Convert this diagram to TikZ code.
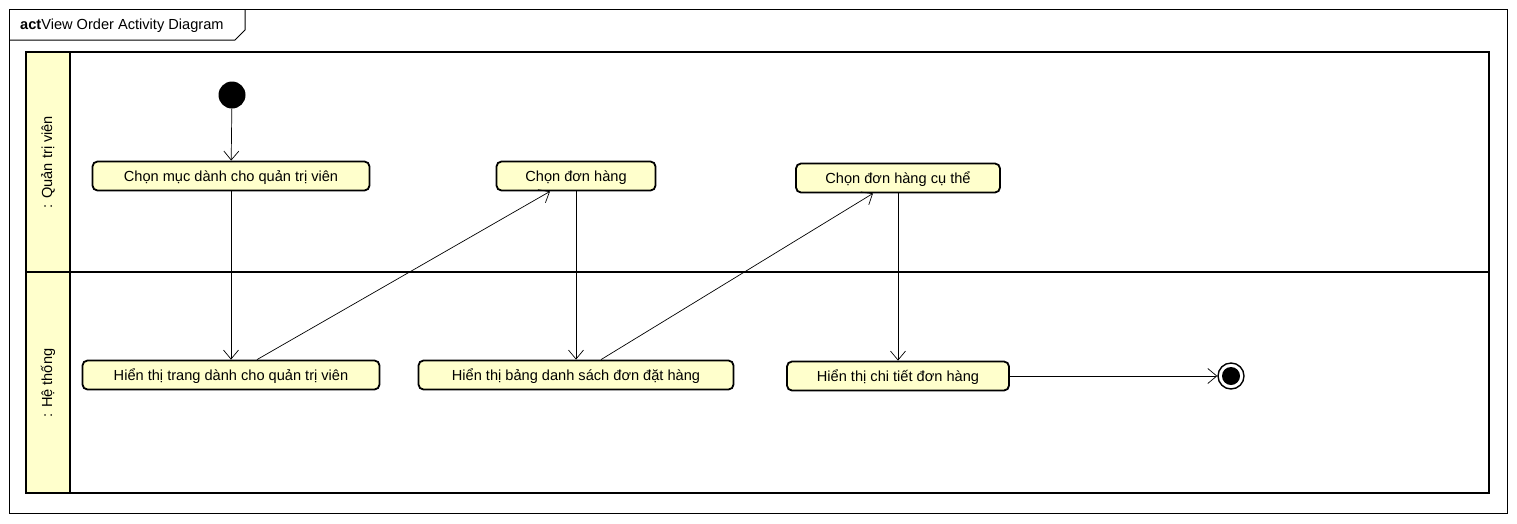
\documentclass[tikz,border=0pt]{standalone}
\usepackage{fontspec}
\setmainfont{Liberation Sans}
\usetikzlibrary{positioning,calc,arrows.meta}
\definecolor{actfill}{RGB}{255,255,204}

\begin{document}
\begin{tikzpicture}[x=1pt,y=-1pt,
    every node/.style={font=\fontsize{14.6}{17}\selectfont},
    action/.style={draw,line width=1.8pt,rounded corners=5pt,fill=actfill,minimum height=29pt,inner sep=0pt,text height=12pt,text depth=1pt},
    flow/.style={line width=0.7pt,-{Straight Barb[length=9pt,width=15pt,line width=0.7pt]}}]
    \useasboundingbox (0,0) rectangle (1517,523);
    % frame and its tab
    \draw[line width=1pt] (9,9) rectangle (1507,513);
    \draw[line width=1pt] (9,40) -- (235,40) -- (245,30) -- (245,9);
    \node[anchor=west,inner sep=0pt] (title) at (20,26) {\textbf{act}View Order Activity Diagram};
    % swimlanes
    \draw[line width=1.8pt] (26,52) rectangle (1489,493);
    \filldraw[fill=actfill,line width=1.8pt] (26,52) rectangle (70,493);
    \draw[line width=1.8pt] (26,272) -- (1489,272);
    \node[rotate=90] (lane1) at (48,162) {: Quản trị viên};
    \node[rotate=90] (lane2) at (48,383) {: Hệ thống};
    % actions
    \foreach \name/\x/\y/\w/\lab in {%
       A1/231/176/277/{Chọn mục dành cho quản trị viên},
       A2/576/176/159/{Chọn đơn hàng},
       A3/898/178/204/{Chọn đơn hàng cụ thể},
       B1/231/375/297/{Hiển thị trang dành cho quản trị viên},
       B2/576/375/315/{Hiển thị bảng danh sách đơn đặt hàng},
       B3/898/376/222/{Hiển thị chi tiết đơn hàng}}{%
       \node[action,minimum width=\w pt] (\name) at (\x,\y) {\lab};
    }
    \node[circle,fill=black,minimum size=27pt,inner sep=0pt] (start) at (232,95) {};
    \node[circle,draw,line width=1.4pt,fill=white,minimum size=26pt,inner sep=0pt] (stop) at (1231,376) {};
    \fill (stop.center) circle (9pt);
    % flows
    \draw[flow] (start) -- (A1);
    \draw[flow] (A1) -- (B1);
    \draw[flow] ($(B1.north)+(26,0)$) -- ($(A2.south)+(-26,0)$);
    \draw[flow] (A2) -- (B2);
    \draw[flow] ($(B2.north)+(25,0)$) -- ($(A3.south)+(-25,0)$);
    \draw[flow] (A3) -- (B3);
    \draw[flow] (B3) -- (stop);
\end{tikzpicture}
\end{document}
